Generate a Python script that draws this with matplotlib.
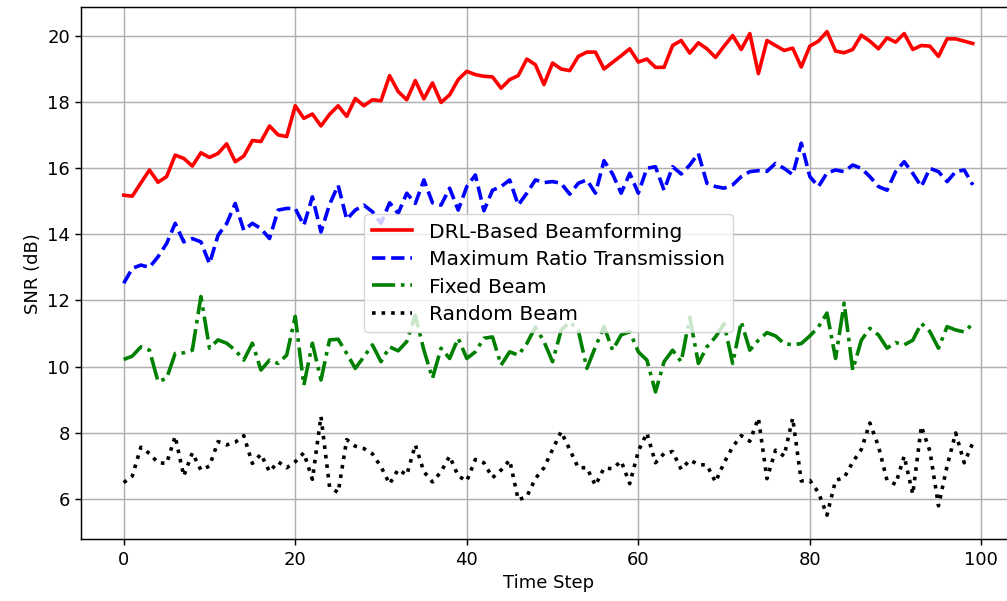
import matplotlib as mpl
mpl.use("Agg")
import matplotlib.pyplot as plt
import numpy as np

mpl.rcParams.update({
	"font.size": 13,
	"axes.labelsize": 13,
	"xtick.labelsize": 13,
	"ytick.labelsize": 13,
	"legend.fontsize": 14.6,
	"axes.linewidth": 1.05,
	"xtick.major.width": 1.05,
	"ytick.major.width": 1.05,
	"xtick.major.size": 4.6,
	"ytick.major.size": 4.6,
	"grid.linewidth": 1.05,
})

LABELS = ["DRL-Based Beamforming", "Maximum Ratio Transmission", "Fixed Beam", "Random Beam"]

drl = [
	15.18, 15.15, 15.55, 15.94, 15.57, 15.74, 16.39, 16.29, 16.06, 16.46,
	16.32, 16.44, 16.73, 16.19, 16.36, 16.83, 16.80, 17.27, 17.00, 16.95,
	17.88, 17.50, 17.63, 17.27, 17.62, 17.88, 17.56, 18.10, 17.88, 18.06,
	18.03, 18.79, 18.31, 18.06, 18.64, 18.09, 18.57, 17.98, 18.21, 18.67,
	18.92, 18.82, 18.77, 18.75, 18.41, 18.67, 18.79, 19.29, 19.12, 18.52,
	19.17, 18.99, 18.94, 19.37, 19.50, 19.50, 18.99, 19.19, 19.39, 19.60,
	19.20, 19.29, 19.04, 19.04, 19.70, 19.85, 19.47, 19.78, 19.60, 19.34,
	19.68, 20.00, 19.58, 20.06, 18.85, 19.85, 19.70, 19.55, 19.62, 19.05,
	19.68, 19.83, 20.12, 19.53, 19.48, 19.58, 20.01, 19.83, 19.60, 19.93,
	19.80, 20.06, 19.58, 19.70, 19.68, 19.37, 19.90, 19.90, 19.83, 19.76,
]

mrt = [
	12.52, 12.97, 13.07, 13.00, 13.32, 13.72, 14.33, 13.77, 13.87, 13.77,
	13.11, 13.97, 14.32, 14.93, 14.12, 14.33, 14.17, 13.87, 14.73, 14.78,
	14.78, 14.27, 15.13, 14.07, 14.90, 15.48, 14.45, 14.73, 14.88, 14.68,
	14.33, 14.95, 14.63, 15.24, 14.93, 15.64, 14.95, 14.88, 15.39, 14.73,
	15.44, 15.79, 14.71, 15.33, 15.44, 15.64, 14.88, 15.24, 15.64, 15.56,
	15.59, 15.54, 15.21, 15.54, 15.64, 15.24, 16.22, 15.82, 15.24, 15.84,
	15.24, 15.99, 16.04, 15.33, 16.04, 15.82, 16.09, 16.44, 15.54, 15.44,
	15.39, 15.49, 15.74, 15.89, 15.92, 15.90, 16.14, 15.99, 15.80, 16.75,
	15.74, 15.44, 15.85, 15.94, 15.89, 16.09, 15.99, 15.74, 15.44, 15.33,
	15.89, 16.19, 15.84, 15.44, 15.99, 15.89, 15.59, 15.89, 15.94, 15.49,
]

fixed = [
	10.22, 10.32, 10.60, 10.50, 9.55, 9.65, 10.40, 10.42, 10.50, 12.12,
	10.56, 10.81, 10.71, 10.50, 10.20, 10.71, 9.90, 10.20, 10.10, 10.35,
	11.52, 9.44, 10.71, 9.60, 10.81, 10.83, 10.40, 9.95, 10.30, 10.66,
	10.15, 10.60, 10.48, 10.76, 11.55, 10.50, 9.65, 10.56, 10.25, 10.86,
	10.25, 10.45, 10.86, 10.90, 10.05, 10.45, 10.35, 10.70, 11.20, 10.76,
	10.15, 11.10, 11.35, 11.10, 9.95, 10.60, 11.21, 10.50, 10.96, 11.06,
	10.45, 10.20, 9.24, 10.15, 10.50, 10.15, 11.50, 10.10, 10.60, 10.90,
	11.30, 10.10, 11.36, 10.50, 10.80, 11.03, 10.93, 10.70, 10.66, 10.70,
	10.93, 11.20, 11.62, 10.25, 11.92, 9.90, 10.80, 11.16, 10.96, 10.56,
	10.73, 10.66, 10.80, 11.31, 11.06, 10.56, 11.21, 11.11, 11.05, 11.30,
]

rand = [
	6.50, 6.70, 7.57, 7.38, 7.10, 7.08, 7.90, 6.70, 7.40, 6.88,
	7.00, 7.74, 7.64, 7.72, 7.92, 7.08, 7.36, 6.83, 7.13, 6.95,
	7.13, 7.40, 6.60, 8.50, 6.37, 6.20, 7.80, 7.60, 7.53, 7.37,
	6.98, 6.46, 6.90, 6.73, 7.64, 6.83, 6.52, 6.83, 7.30, 6.70,
	6.55, 7.20, 7.10, 6.65, 6.88, 7.18, 5.98, 6.08, 6.62, 6.95,
	7.50, 8.04, 7.50, 6.95, 6.95, 6.42, 6.94, 6.92, 7.15, 6.47,
	7.45, 8.00, 7.10, 7.38, 7.44, 6.90, 7.18, 7.05, 7.03, 6.52,
	7.10, 7.58, 7.92, 7.75, 8.45, 6.62, 7.48, 7.30, 8.45, 6.55,
	6.57, 6.20, 5.52, 6.57, 6.65, 7.12, 7.50, 8.30, 7.60, 6.57,
	6.45, 7.30, 6.15, 8.20, 7.45, 5.80, 7.00, 8.00, 7.10, 7.70,
]

steps = np.arange(len(drl))

fig = plt.figure(figsize=(10.07, 6.01), dpi=100)
# axes run past the right edge, like the cropped original
ax = fig.add_axes([0.0807, 0.1027, 0.9275, 0.885])

ax.plot(steps, drl, color="r", linestyle="-", linewidth=2.6, label=LABELS[0])
ax.plot(steps, mrt, color="b", linestyle="--", linewidth=2.6, label=LABELS[1])
ax.plot(steps, fixed, color="g", linestyle="-.", linewidth=2.6, label=LABELS[2])
ax.plot(steps, rand, color="k", linestyle=":", linewidth=2.6, label=LABELS[3])

ax.set_xlabel("Time Step")
ax.set_ylabel("SNR (dB)")
ax.grid(True)
ax.legend(loc="center", labelspacing=0.42)

fig.savefig("out.png", dpi=100)
